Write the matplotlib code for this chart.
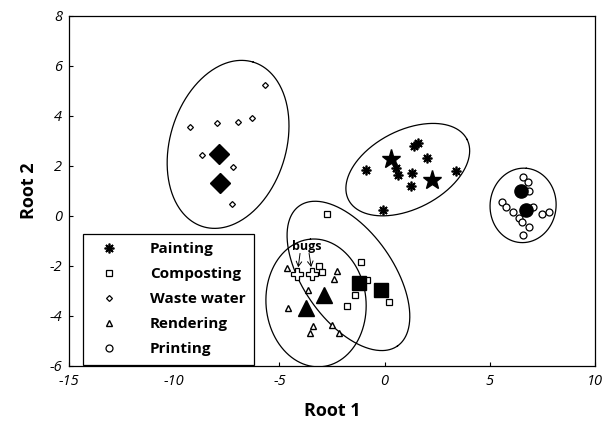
import numpy as np
import matplotlib
matplotlib.use('Agg')
import matplotlib.pyplot as plt
from matplotlib.lines import Line2D

plt.rcParams['font.family'] = ['Open Sans', 'DejaVu Sans']
plt.rcParams['axes.unicode_minus'] = False

# group members (Root 1, Root 2)
paint_x = [1.60, 1.40, 2.00, -0.90, 0.54, 0.65, 1.30, 1.24, 3.38, -0.09]
paint_y = [2.93, 2.81, 2.31, 1.84, 1.91, 1.64, 1.73, 1.20, 1.79, 0.24]
compost_x = [-2.75, -3.12, -2.96, -1.14, -0.85, -1.41, -1.80, 0.22]
compost_y = [0.07, -1.99, -2.23, -1.83, -2.56, -3.16, -3.60, -3.43]
waste_x = [-5.68, -9.25, -7.98, -6.98, -6.32, -8.69, -7.22, -7.27]
waste_y = [5.24, 3.57, 3.71, 3.75, 3.93, 2.43, 1.97, 0.48]
render_x = [-4.65, -2.25, -2.42, -3.63, -4.58, -3.39, -3.55, -2.50, -2.18]
render_y = [-2.07, -2.20, -2.53, -2.96, -3.69, -4.40, -4.69, -4.36, -4.69]
print_x = [6.59, 6.80, 6.88, 5.59, 5.77, 6.12, 7.07, 7.47, 7.81, 6.40, 6.52, 6.88, 6.59]
print_y = [1.57, 1.35, 1.01, 0.57, 0.37, 0.17, 0.37, 0.07, 0.17, -0.07, -0.25, -0.43, -0.76]

# big filled symbols
paint_big_x = [0.29, 2.24]
paint_big_y = [2.27, 1.44]
compost_big_x = [-1.20, -0.19]
compost_big_y = [-2.67, -2.96]
waste_big_x = [-7.87, -7.82]
waste_big_y = [2.47, 1.33]
render_big_x = [-2.88, -3.74]
render_big_y = [-3.16, -3.69]
print_big_x = [6.47, 6.71]
print_big_y = [1.01, 0.24]

bugs_x = [-4.15, -3.44]
bugs_y = [-2.33, -2.32]

# ellipses: centre x, centre y, semi axes (in Root 2 units), angle
ell_cx = [1.10, -1.72, -7.44, -3.26, 6.58]
ell_cy = [1.85, -2.40, 2.86, -3.48, 0.42]
ell_a = [2.66, 3.42, 3.44, 2.56, 1.49]
ell_b = [1.57, 1.80, 2.32, 2.00, 1.32]
ell_ang = [27, -55, 73, 95, 85]

fig = plt.figure(figsize=(6.16, 4.28), dpi=100)
ax = fig.add_axes([0.112, 0.145, 0.854, 0.818])
ax.set_xlim(-15, 10)
ax.set_ylim(-6, 8)
ax.set_xticks(np.arange(-15, 11, 5))
ax.set_yticks(np.arange(-6, 9, 2))
ax.tick_params(direction='in', length=3, width=0.8, labelsize=10.5)
ax.tick_params(axis='x', pad=6)
ax.tick_params(axis='y', pad=5)
for lab in ax.get_xticklabels() + ax.get_yticklabels():
    lab.set_fontstyle('italic')
for s in ax.spines.values():
    s.set_linewidth(0.9)
ax.set_xlabel('Root 1', fontsize=13, fontweight='bold', labelpad=9)
ax.set_ylabel('Root 2', fontsize=13, fontweight='bold', labelpad=8)

# ratio of pixels per unit, so ellipses keep their drawn shape
p0 = ax.transData.transform((0, 0))
p1 = ax.transData.transform((1, 1))
ratio = (p1[1] - p0[1]) / (p1[0] - p0[0])
t = np.linspace(0, 2 * np.pi, 400)
for cx, cy, a, b, ang in zip(ell_cx, ell_cy, ell_a, ell_b, ell_ang):
    r = np.deg2rad(ang)
    ex = a * np.cos(t) * np.cos(r) - b * np.sin(t) * np.sin(r)
    ey = a * np.cos(t) * np.sin(r) + b * np.sin(t) * np.cos(r)
    ax.plot(cx + ex * ratio, cy + ey, color='black', lw=0.9)

mew = 0.9
star8 = (8, 2, 0)
ax.plot(paint_x, paint_y, ls='none', marker=star8, ms=7, mew=1.25, color='black')
ax.plot(compost_x, compost_y, ls='none', marker='s', ms=5, mfc='white', mec='black', mew=mew)
ax.plot(waste_x, waste_y, ls='none', marker='D', ms=3, mfc='white', mec='black', mew=mew)
ax.plot(render_x, render_y, ls='none', marker='^', ms=4.5, mfc='white', mec='black', mew=1.0)
ax.plot(print_x, print_y, ls='none', marker='o', ms=5, mfc='white', mec='black', mew=mew)

ax.plot(paint_big_x, paint_big_y, ls='none', marker='*', ms=14, color='black')
ax.plot(compost_big_x, compost_big_y, ls='none', marker='s', ms=9.5, color='black')
ax.plot(waste_big_x, waste_big_y, ls='none', marker='D', ms=10, color='black')
ax.plot(render_big_x, render_big_y, ls='none', marker='^', ms=12, color='black')
ax.plot(print_big_x, print_big_y, ls='none', marker='o', ms=9.5, color='black')

ax.plot(bugs_x, bugs_y, ls='none', marker='P', ms=8, mfc='white', mec='black', mew=mew)
ax.text(-3.70, -1.23, 'bugs', ha='center', va='center', fontsize=9, fontweight='bold')
for sx, bx, by in zip([-4.02, -3.59], bugs_x, bugs_y):
    ax.annotate('', xy=(bx, by), xytext=(sx, -1.5),
                arrowprops=dict(arrowstyle='->,head_length=0.35,head_width=0.2',
                                lw=0.7, shrinkA=0, shrinkB=5))

handles = [
    Line2D([], [], ls='none', marker=star8, ms=7, mew=1.25, color='black'),
    Line2D([], [], ls='none', marker='s', ms=5, mfc='white', mec='black', mew=mew),
    Line2D([], [], ls='none', marker='D', ms=3, mfc='white', mec='black', mew=mew),
    Line2D([], [], ls='none', marker='^', ms=4.5, mfc='white', mec='black', mew=1.0),
    Line2D([], [], ls='none', marker='o', ms=5, mfc='white', mec='black', mew=mew),
]
labels = ['Painting', 'Composting', 'Waste water', 'Rendering', 'Printing']
leg = ax.legend(handles, labels, loc='lower left', bbox_to_anchor=(0.027, 0.003),
                borderaxespad=0, fancybox=False, framealpha=1, edgecolor='black',
                prop={'weight': 'bold', 'size': 11}, handlelength=2.3,
                handletextpad=1.5, labelspacing=0.72, borderpad=0.55)
leg.get_frame().set_linewidth(0.9)

fig.savefig('out.png', dpi=100)
